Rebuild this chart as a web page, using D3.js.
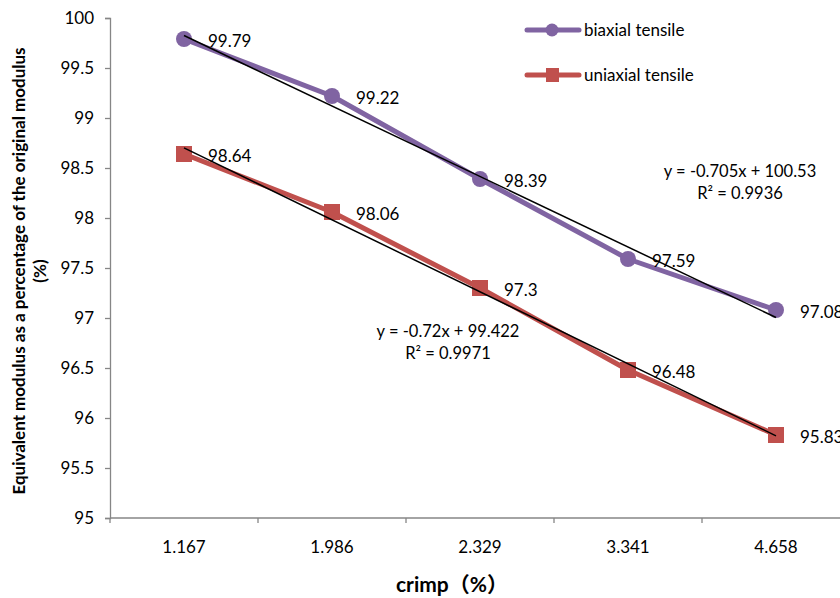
<!DOCTYPE html>
<html>
<head>
<meta charset="utf-8">
<script src="https://cdn.jsdelivr.net/npm/d3@7"></script>
<style>
  body { margin: 0; background: #fff; }
  svg { display: block; font-family: Lato, "Open Sans", "Noto Sans", sans-serif; }
</style>
</head>
<body>
<svg id="chart" width="840" height="598"></svg>
<script>
// Crimp levels (category labels on the x axis)
const crimpLabels = ["1.167", "1.986", "2.329", "3.341", "4.658"];
// Equivalent modulus, % of original
const biaxialValues = [99.79, 99.22, 98.39, 97.59, 97.08];
const uniaxialValues = [98.64, 98.06, 97.3, 96.48, 95.83];
// Linear trendlines fitted against category index (1..5)
const biaxialTrend = { slope: -0.705, intercept: 100.53, r2: "0.9936" };
const uniaxialTrend = { slope: -0.72, intercept: 99.422, r2: "0.9971" };
const yTicks = [95, 95.5, 96, 96.5, 97, 97.5, 98, 98.5, 99, 99.5, 100];

(function () {
const svg = d3.select("#chart");
const plotLeft = 110, plotRight = 850, plotTop = 18, plotBottom = 518;

const x = d3.scaleBand().domain(crimpLabels).range([plotLeft, plotRight]).padding(0);
const xc = d => x(d) + x.bandwidth() / 2;
const y = d3.scaleLinear().domain([95, 100]).range([plotBottom, plotTop]);

const axisColor = "#868686";

// Y axis
const yAxis = svg.append("g")
  .attr("transform", `translate(${plotLeft},0)`)
  .call(d3.axisLeft(y).tickValues(yTicks).tickSize(5).tickPadding(11)
    .tickFormat(d3.format("")));
yAxis.select(".domain").attr("stroke", axisColor).attr("stroke-width", 1.3);
yAxis.selectAll(".tick line").attr("stroke", axisColor).attr("stroke-width", 1.3);
yAxis.selectAll(".tick text").attr("font-size", 17).attr("fill", "#000")
  .style("font-family", "Lato, sans-serif");

// X axis: ticks between categories
const xAxis = svg.append("g").attr("transform", `translate(0,${plotBottom})`);
xAxis.append("line").attr("x1", plotLeft).attr("x2", plotRight)
  .attr("stroke", axisColor).attr("stroke-width", 1.3);
const bounds = crimpLabels.map(d => x(d)).concat([plotRight]);
xAxis.selectAll("line.tk").data(bounds).join("line").attr("class", "tk")
  .attr("x1", d => d).attr("x2", d => d).attr("y1", 0).attr("y2", 5)
  .attr("stroke", axisColor).attr("stroke-width", 1.3);
xAxis.selectAll("text").data(crimpLabels).join("text")
  .attr("x", d => xc(d)).attr("y", 35).attr("text-anchor", "middle")
  .attr("font-size", 17).attr("fill", "#000").text(d => d);

// Axis titles
svg.append("text")
  .attr("x", 452).attr("y", 592).attr("text-anchor", "middle")
  .attr("font-size", 21).attr("font-weight", "bold")
  .style("font-family", "Lato, 'Noto Sans CJK SC', sans-serif")
  .text("crimp（%）");

const yTitle = svg.append("text")
  .attr("transform", "translate(0,271) rotate(-90)")
  .attr("text-anchor", "middle").attr("font-size", 17).attr("font-weight", "bold");
yTitle.append("tspan").attr("x", 0).attr("y", 25)
  .text("Equivalent modulus as a percentage of the original modulus");
yTitle.append("tspan").attr("x", 0).attr("y", 46).text("(%)");

const series = [
  { name: "biaxial tensile", values: biaxialValues, color: "#8064A2", marker: "circle", trend: biaxialTrend },
  { name: "uniaxial tensile", values: uniaxialValues, color: "#C0504D", marker: "square", trend: uniaxialTrend }
];

const line = d3.line().x((d, i) => xc(crimpLabels[i])).y(d => y(d));

function drawMarker(g, kind, cx, cy, color) {
  if (kind === "circle") {
    g.append("circle").attr("cx", cx).attr("cy", cy).attr("r", 8).attr("fill", color);
  } else {
    g.append("rect").attr("x", cx - 8).attr("y", cy - 8).attr("width", 16).attr("height", 16).attr("fill", color);
  }
}

series.forEach(s => {
  const g = svg.append("g");
  g.append("path").datum(s.values).attr("d", line)
    .attr("fill", "none").attr("stroke", s.color).attr("stroke-width", 5)
    .attr("stroke-linejoin", "round").attr("stroke-linecap", "round");
  s.values.forEach((v, i) => drawMarker(g, s.marker, xc(crimpLabels[i]), y(v), s.color));
  // Trendline over category index 1..5
  const t0 = s.trend.slope * 1 + s.trend.intercept;
  const t1 = s.trend.slope * crimpLabels.length + s.trend.intercept;
  g.append("line")
    .attr("x1", xc(crimpLabels[0])).attr("y1", y(t0))
    .attr("x2", xc(crimpLabels[crimpLabels.length - 1])).attr("y2", y(t1))
    .attr("stroke", "#000").attr("stroke-width", 1.5);
  // Value labels
  g.selectAll("text.val").data(s.values).join("text").attr("class", "val")
    .attr("x", (d, i) => xc(crimpLabels[i]) + 24).attr("y", d => y(d) + 7.5)
    .attr("font-size", 17).attr("fill", "#000").text(d => d);
});

// Trendline equations
function equation(t, cx, cy) {
  const g = svg.append("g").attr("font-size", 16.5).attr("text-anchor", "middle").attr("fill", "#000");
  g.append("text").attr("x", cx).attr("y", cy).text(`y = ${t.slope}x + ${t.intercept}`);
  g.append("text").attr("x", cx).attr("y", cy + 22).text(`R² = ${t.r2}`);
}
equation(biaxialTrend, 740, 177);
equation(uniaxialTrend, 448, 337);

// Legend
const legend = svg.append("g");
series.forEach((s, i) => {
  const ly = 30 + i * 45;
  legend.append("line").attr("x1", 527).attr("x2", 579).attr("y1", ly).attr("y2", ly)
    .attr("stroke", s.color).attr("stroke-width", 5).attr("stroke-linecap", "round");
  if (s.marker === "circle") {
    legend.append("circle").attr("cx", 552).attr("cy", ly).attr("r", 6.5).attr("fill", s.color);
  } else {
    legend.append("rect").attr("x", 546).attr("y", ly - 7).attr("width", 13).attr("height", 14).attr("fill", s.color);
  }
  legend.append("text").attr("x", 584).attr("y", ly + 6).attr("font-size", 17).text(s.name);
});
})();
</script>
</body>
</html>
